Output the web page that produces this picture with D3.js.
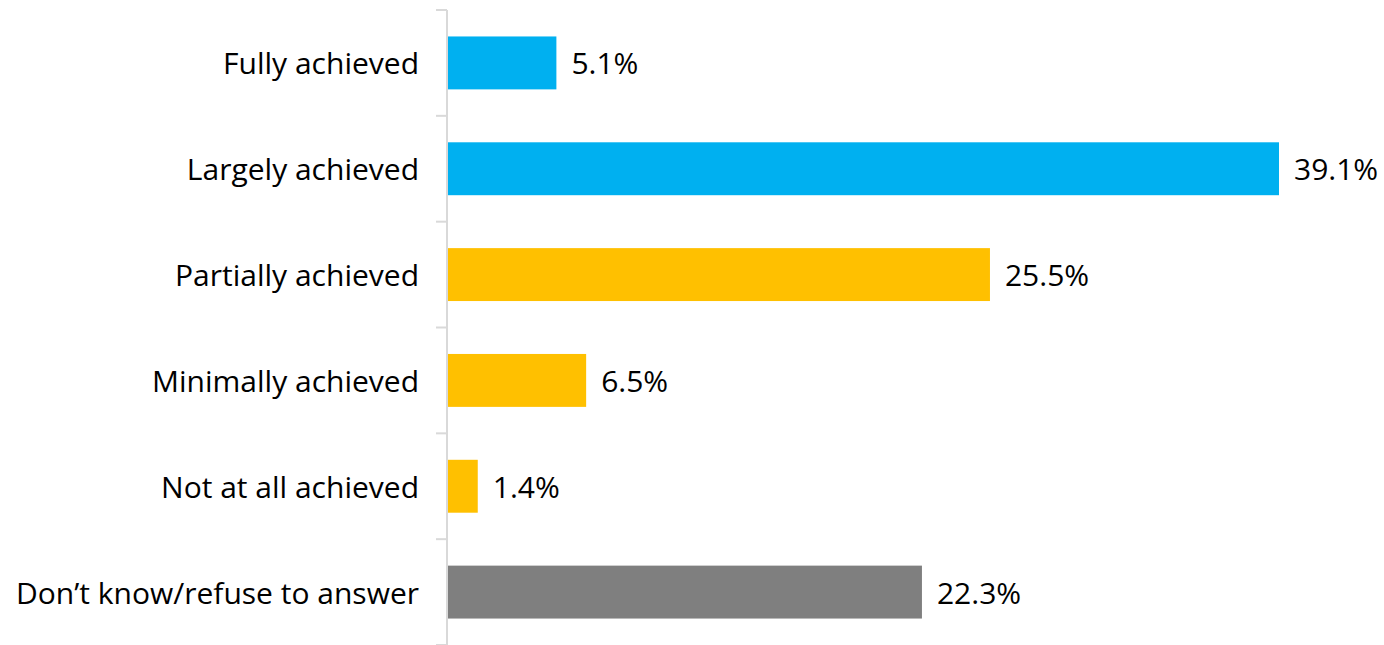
<!DOCTYPE html>
<html>
<head>
<meta charset="utf-8">
<script src="https://cdn.jsdelivr.net/npm/d3@7"></script>
<style>
  html, body { margin: 0; padding: 0; background: #fff; }
  svg { display: block; }
  text { font-family: "Open Sans", "Noto Sans", sans-serif; fill: #000; }
</style>
</head>
<body>
<svg id="chart" width="1384" height="645"></svg>
<script>
const categories = [
  "Fully achieved",
  "Largely achieved",
  "Partially achieved",
  "Minimally achieved",
  "Not at all achieved",
  "Don\u2019t know/refuse to answer"
];
const values = [5.1, 39.1, 25.5, 6.5, 1.4, 22.3];
const barColors = ["#00B0F0", "#00B0F0", "#FFC000", "#FFC000", "#FFC000", "#7F7F7F"];

const svg = d3.select("#chart");
const axisX = 447;
const fontSize = 30;

const y = d3.scaleBand()
  .domain(categories)
  .range([10, 645])
  .paddingInner(0.5)
  .paddingOuter(0.25);

const x = d3.scaleLinear()
  .domain([0, 39.1])
  .range([axisX + 1, 1279]);

// bars
svg.append("g").selectAll("rect")
  .data(categories)
  .join("rect")
  .attr("x", x(0))
  .attr("y", d => y(d))
  .attr("width", (d, i) => x(values[i]) - x(0))
  .attr("height", y.bandwidth())
  .attr("fill", (d, i) => barColors[i]);

// category axis with ticks at band boundaries
const axis = svg.append("g");
axis.append("line")
  .attr("x1", axisX).attr("x2", axisX)
  .attr("y1", y.range()[0]).attr("y2", y.range()[1])
  .attr("stroke", "#d9d9d9").attr("stroke-width", 2);
const bounds = categories.map(d => y(d) - y.step() * y.paddingInner() / 2)
  .concat([y.range()[1]]);
axis.selectAll("line.tick")
  .data(bounds)
  .join("line")
  .attr("class", "tick")
  .attr("x1", axisX - 11).attr("x2", axisX)
  .attr("y1", d => d).attr("y2", d => d)
  .attr("stroke", "#d9d9d9").attr("stroke-width", 2);

axis.selectAll("text")
  .data(categories)
  .join("text")
  .attr("x", 419)
  .attr("y", d => y(d) + y.bandwidth() / 2)
  .attr("text-anchor", "end")
  .attr("dominant-baseline", "central")
  .attr("font-size", fontSize)
  .text(d => d);

// value labels
svg.append("g").selectAll("text")
  .data(categories)
  .join("text")
  .attr("x", (d, i) => x(values[i]) + 15)
  .attr("y", d => y(d) + y.bandwidth() / 2)
  .attr("dominant-baseline", "central")
  .attr("font-size", fontSize)
  .text((d, i) => values[i].toFixed(1) + "%");
</script>
</body>
</html>
